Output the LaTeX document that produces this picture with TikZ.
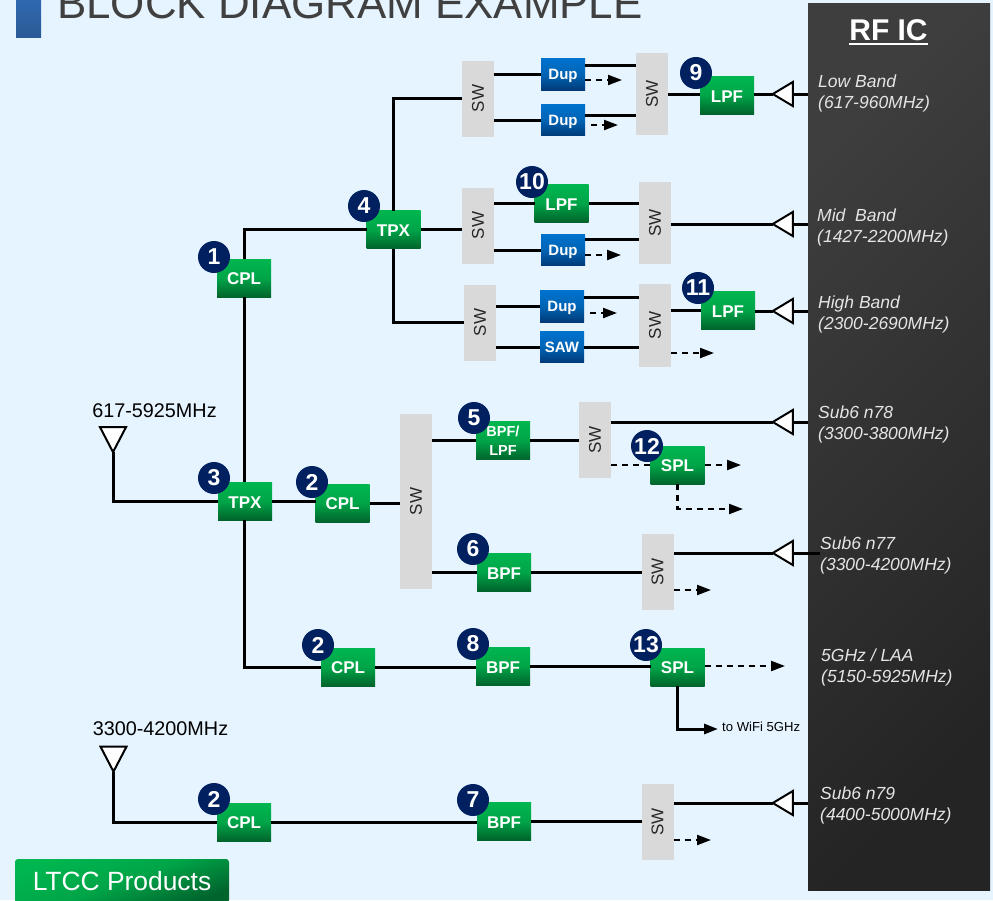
\documentclass[tikz,border=0pt]{standalone}
\usepackage{fontspec}
\setmainfont{Liberation Sans}
\usetikzlibrary{arrows.meta,shapes.geometric}
\definecolor{pagebg}{HTML}{E5F4FF}
\definecolor{greenlt}{HTML}{00B64F}
\definecolor{greenmid}{HTML}{00A548}
\definecolor{greendk}{HTML}{00642C}
\definecolor{bluelt}{HTML}{0072CE}
\definecolor{bluemid}{HTML}{0064B4}
\definecolor{bluedk}{HTML}{003A78}
\definecolor{barlt}{HTML}{3068B0}
\definecolor{bardk}{HTML}{2A5A96}
\definecolor{badgeblue}{HTML}{002060}
\definecolor{swgrey}{HTML}{D9D9D9}
\definecolor{panellt}{HTML}{3E3E3E}
\definecolor{paneldk}{HTML}{242424}
\newcommand{\SW}{\rotatebox{90}{SW}}
\newcommand{\thickbar}[1]{\setbox0\hbox{#1}\rlap{\rule[-4.5pt]{\wd0}{2pt}}\box0}
\newcommand{\px}[1]{\fontsize{#1}{#1}\selectfont}
\tikzset{
  blockbox/.style={inner sep=0pt,outer sep=0pt,text=white,align=center,font=\bfseries\px{17},shading angle=45},
  greenbox/.style={blockbox,minimum width=54pt,minimum height=38pt,top color=greenlt,bottom color=greendk,middle color=greenmid},
  filterbox/.style={greenbox,text height=14pt},
  dupbox/.style={blockbox,minimum width=44pt,minimum height=31.5pt,top color=bluelt,bottom color=bluedk,middle color=bluemid,font=\bfseries\px{15},text height=13pt,text depth=3pt},
  swbox/.style={fill=swgrey,inner sep=0pt,outer sep=0pt,minimum width=32pt,minimum height=#1,text=black!85,font=\px{17}},
  swbox/.default=76pt,
  badge/.style={circle,fill=badgeblue,text=white,inner sep=0pt,minimum size=32pt,font=\bfseries\px{23}},
  band/.style={anchor=west,align=left,inner sep=0pt,text=white!90!black,font=\itshape\fontsize{17.5}{21}\selectfont},
  port/.style={isosceles triangle,isosceles triangle stretches,draw=black,fill=white,line width=2pt,inner sep=0pt,outer sep=0pt,minimum width=24pt,minimum height=20pt,shape border rotate=180},
  antenna/.style={port,minimum width=26pt,minimum height=25pt,shape border rotate=270},
  wire/.style={line width=3pt,line join=miter},
  dashline/.style={line width=2.2pt,dash pattern=on 6pt off 5pt},
  dasharrow/.style={dashline,-{Triangle[length=14pt,width=10pt]}},
}
\begin{document}
\begin{tikzpicture}[x=1pt,y=-1pt]
  \useasboundingbox (0,0) rectangle (993,900);
  \fill[pagebg] (0,0) rectangle (993,900);
  \draw
    (28.5,18.5) node[inner sep=0pt,minimum width=25pt,minimum height=37pt,top color=barlt,bottom color=bardk] (titlebar){}
    (57,18) node[anchor=base west,inner sep=0pt,text=black!75,font=\px{43.9}] (title){BLOCK DIAGRAM EXAMPLE}
    (899,446.5) node[inner sep=0pt,outer sep=0pt,minimum width=182pt,minimum height=887pt,top color=panellt,bottom color=paneldk,shading angle=45] (panel){}
    (888.5,32) node[text=white,inner sep=0pt,font=\bfseries\px{30}] (rfic){\thickbar{RF IC}}
    (122,881) node[rounded corners=3pt,inner sep=0pt,minimum width=214pt,minimum height=44pt,top color=greenlt,bottom color=greendk,middle color=greenmid,shading angle=20,text=white,font=\px{26.4}] (ltcc){LTCC Products}
    (154.5,411) node[inner sep=0pt,font=\px{19.8}] (ant1text){617-5925MHz}
    (160.5,729) node[inner sep=0pt,font=\px{19.8}] (ant2text){3300-4200MHz}
    (818,93.5) node[band] (lowtext){Low Band\\(617-960MHz)}
    (817,227.5) node[band] (midtext){Mid\ \ Band\\(1427-2200MHz)}
    (818,314.5) node[band] (hightext){High Band\\(2300-2690MHz)}
    (818,424.5) node[band] (n78text){Sub6 n78\\(3300-3800MHz)}
    (820,555.5) node[band] (n77text){Sub6 n77\\(3300-4200MHz)}
    (821,667.5) node[band] (laatext){5GHz / LAA\\(5150-5925MHz)}
    (820,805.5) node[band] (n79text){Sub6 n79\\(4400-5000MHz)};
  \draw
    (478,98.5) node[swbox] (sw1){\SW}
    (652,94) node[swbox=82pt] (sw2){\SW}
    (478,225.5) node[swbox] (sw3){\SW}
    (655,223) node[swbox=82pt] (sw4){\SW}
    (480,322.5) node[swbox] (sw5){\SW}
    (655,325.5) node[swbox=83pt] (sw6){\SW}
    (416,501.5) node[swbox=175pt] (sw7){\SW}
    (595,440) node[swbox] (sw8){\SW}
    (657.5,572) node[swbox] (sw9){\SW}
    (657.5,822) node[swbox] (sw10){\SW};
  \draw
    (563,74.5) node[dupbox] (dup1){Dup}
    (563,120) node[dupbox] (dup2){Dup}
    (563,250) node[dupbox] (dup3){Dup}
    (562,306.5) node[dupbox] (dup4){Dup}
    (562,347) node[dupbox] (saw){SAW};
  \draw
    (244,278) node[filterbox] (cpl1){CPL}
    (393.5,229.5) node[filterbox] (tpx4){TPX}
    (727,95) node[filterbox] (lpf9){LPF}
    (561.5,203) node[filterbox] (lpf10){LPF}
    (728,310) node[filterbox] (lpf11){LPF}
    (503,440.5) node[greenbox,font=\bfseries\fontsize{14.5}{18.5}\selectfont] (bpf5){BPF/\\LPF}
    (677.5,465) node[filterbox] (spl12){SPL}
    (504,572) node[filterbox] (bpf6){BPF}
    (245,501) node[filterbox] (tpx3){TPX}
    (342.5,503) node[filterbox] (cpl2a){CPL}
    (348,667) node[filterbox] (cpl2b){CPL}
    (503,666) node[filterbox] (bpf8){BPF}
    (677.5,667) node[filterbox] (spl13){SPL}
    (244,822) node[filterbox] (cpl2c){CPL}
    (504,821) node[filterbox] (bpf7){BPF};
  \draw
    (786,94) node[port] (portlow){}
    (786,224) node[port] (portmid){}
    (786,311) node[port] (porthigh){}
    (786,422) node[port] (portn78){}
    (786,553) node[port] (portn77){}
    (786,803) node[port] (portn79){}
    (113,435) node[antenna] (ant1){}
    (113.5,754.5) node[antenna] (ant2){}
    (722,727) node[anchor=west,inner sep=0pt,font=\px{13.1}] (wifi){to WiFi 5GHz};
  \coordinate (dup1out) at (585,65);
  \coordinate (dup2out) at (585,115);
  \coordinate (dup3out) at (585,239);
  \coordinate (dup4out) at (584,297);
  \coordinate (dup1end) at (622,80);
  \coordinate (dup2end) at (618,125);
  \coordinate (dup3end) at (621,255);
  \coordinate (dup4end) at (617,313);
  \coordinate (sw6end) at (714,353);
  \coordinate (sw9end) at (711,590);
  \coordinate (sw10end) at (711,840);
  \coordinate (spl12end) at (741,465);
  \coordinate (spl12low) at (743,509);
  \coordinate (spl13end) at (785,666);
  \coordinate (n77end) at (820,553);
  \coordinate (wifiend) at (718,729);
  \begin{scope}[wire]
    \draw (cpl1.north) |- (tpx4.west);
    \draw (cpl1.south) to (cpl1.south |- tpx3.north);
    \draw (tpx4.north) |- (sw1.west);
    \draw (tpx4.east) to (tpx4.east -| sw3.west);
    \draw (tpx4.south) |- (sw5.west);
    \draw (sw1.east |- dup1) to (dup1.west);
    \draw (sw1.east |- dup2) to (dup2.west);
    \draw (dup1out) to (dup1out -| sw2.west);
    \draw (dup2out) to (dup2out -| sw2.west);
    \draw (sw2.east) to (sw2.east -| lpf9.west);
    \draw (lpf9.east |- portlow.apex) to (portlow.apex);
    \draw (portlow.lower side) to (portlow.lower side -| panel.west);
    \draw (sw3.east |- lpf10) to (lpf10.west);
    \draw (sw3.east |- dup3) to (dup3.west);
    \draw (lpf10.east) to (lpf10.east -| sw4.west);
    \draw (dup3out) to (dup3out -| sw4.west);
    \draw (sw4.east |- portmid.apex) to (portmid.apex);
    \draw (portmid.lower side) to (portmid.lower side -| panel.west);
    \draw (sw5.east |- dup4) to (dup4.west);
    \draw (sw5.east |- saw) to (saw.west);
    \draw (dup4out) to (dup4out -| sw6.west);
    \draw (saw.east) to (saw.east -| sw6.west);
    \draw (sw6.east |- lpf11) to (lpf11.west);
    \draw (lpf11.east |- porthigh.apex) to (porthigh.apex);
    \draw (porthigh.lower side) to (porthigh.lower side -| panel.west);
    \draw (ant1.apex) |- (tpx3.west);
    \draw (tpx3.east) to (tpx3.east -| cpl2a.west);
    \draw (cpl2a.east) to (cpl2a.east -| sw7.west);
    \draw (sw7.east |- bpf5) to (bpf5.west);
    \draw (sw7.east |- bpf6) to (bpf6.west);
    \draw (bpf5.east) to (bpf5.east -| sw8.west);
    \draw (sw8.east |- portn78.apex) to (portn78.apex);
    \draw (portn78.lower side) to (portn78.lower side -| panel.west);
    \draw (bpf6.east) to (sw9.west);
    \draw (sw9.east |- portn77.apex) to (portn77.apex);
    \draw (portn77.lower side) to (n77end);
    \draw (cpl1.south |- tpx3.south) |- (cpl2b.west);
    \draw (cpl2b.east) to (cpl2b.east -| bpf8.west);
    \draw (bpf8.east) to (bpf8.east -| spl13.west);
    \draw[-{Triangle[length=14pt,width=10pt]}] (spl13.south) |- (wifiend);
    \draw (ant2.apex) |- (cpl2c.west);
    \draw (cpl2c.east) to (cpl2c.east -| bpf7.west);
    \draw (bpf7.east) to (bpf7.east -| sw10.west);
    \draw (sw10.east |- portn79.apex) to (portn79.apex);
    \draw (portn79.lower side) to (portn79.lower side -| panel.west);
  \end{scope}
  \begin{scope}[dasharrow]
    \draw (dup1end -| dup1.east) to (dup1end);
    \draw ([xshift=6pt]dup2end -| dup2.east) to (dup2end);
    \draw (dup3end -| dup3.east) to (dup3end);
    \draw ([xshift=6pt]dup4end -| dup4.east) to (dup4end);
    \draw (sw6end -| sw6.east) to (sw6end);
    \draw (sw9end -| sw9.east) to (sw9end);
    \draw (sw10end -| sw10.east) to (sw10end);
    \draw (spl12.east) to (spl12end);
    \draw (spl12.south) |- (spl12low);
    \draw (spl13.east |- spl13end) to (spl13end);
  \end{scope}
  \draw[dashline] (sw8.east |- spl12) to (spl12.west);
  \draw
    (214,257) node[badge] (num1){1}
    (312,482) node[badge] (num2a){2}
    (318,645) node[badge] (num2b){2}
    (214,799) node[badge] (num2c){2}
    (214,478) node[badge] (num3){3}
    (364,206) node[badge] (num4){4}
    (474,418) node[badge] (num5){5}
    (473,549) node[badge] (num6){6}
    (473,800) node[badge] (num7){7}
    (473,644) node[badge] (num8){8}
    (696,73) node[badge] (num9){9}
    (532,182) node[badge] (num10){10}
    (698,288) node[badge] (num11){11}
    (647,446) node[badge] (num12){12}
    (646,645) node[badge] (num13){13};
\end{tikzpicture}
\end{document}
